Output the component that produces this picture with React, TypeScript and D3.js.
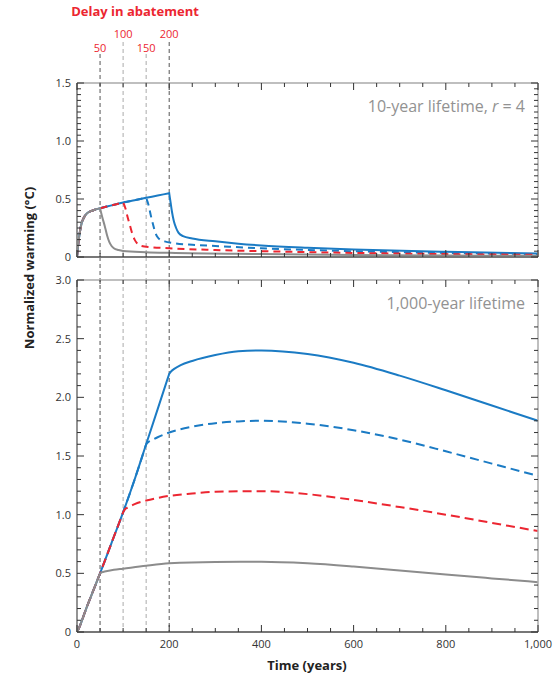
import React from "react";
import * as d3 from "d3";

// values
const delays = [50, 100, 150, 200];

// 10-year lifetime: shared rise before abatement
const riseT10 = [0, 3, 6, 10, 15, 20, 30, 40, 50, 75, 100, 125, 150, 175, 200];
const riseV10 = [0, 0.12, 0.21, 0.29, 0.34, 0.37, 0.395, 0.41, 0.42, 0.445, 0.47, 0.49, 0.51, 0.53, 0.55];

const tail10_50T = [50, 55, 60, 65, 70, 75, 80, 90, 100, 150, 200, 400, 600, 800, 1000];
const tail10_50V = [0.42, 0.34, 0.27, 0.19, 0.13, 0.095, 0.075, 0.06, 0.052, 0.042, 0.036, 0.025, 0.018, 0.013, 0.01];
const tail10_100T = [100, 105, 110, 115, 120, 125, 130, 140, 160, 200, 300, 400, 600, 800, 1000];
const tail10_100V = [0.47, 0.42, 0.34, 0.27, 0.2, 0.15, 0.12, 0.095, 0.085, 0.075, 0.06, 0.05, 0.035, 0.025, 0.018];
const tail10_150T = [150, 155, 160, 165, 170, 175, 180, 190, 210, 250, 300, 400, 600, 800, 1000];
const tail10_150V = [0.51, 0.45, 0.36, 0.28, 0.21, 0.17, 0.15, 0.135, 0.12, 0.105, 0.095, 0.075, 0.05, 0.035, 0.025];
const tail10_200T = [200, 203, 206, 210, 215, 220, 230, 250, 300, 350, 400, 500, 600, 800, 1000];
const tail10_200V = [0.55, 0.47, 0.39, 0.31, 0.25, 0.21, 0.18, 0.16, 0.135, 0.115, 0.1, 0.08, 0.065, 0.045, 0.03];

// 1,000-year lifetime
const riseT1000 = [0, 5, 10, 20, 30, 40, 50, 75, 100, 125, 150, 175, 200];
const riseV1000 = [0, 0.04, 0.09, 0.2, 0.3, 0.4, 0.5, 0.76, 1.02, 1.3, 1.6, 1.9, 2.2];

const tail1000_50T = [50, 55, 60, 80, 100, 150, 200, 300, 400, 500, 600, 700, 800, 900, 1000];
const tail1000_50V = [0.5, 0.51, 0.515, 0.53, 0.54, 0.565, 0.585, 0.597, 0.598, 0.585, 0.558, 0.525, 0.49, 0.457, 0.425];
const tail1000_100T = [100, 105, 110, 125, 150, 200, 250, 300, 400, 500, 600, 700, 800, 900, 1000];
const tail1000_100V = [1.02, 1.05, 1.06, 1.09, 1.12, 1.16, 1.18, 1.195, 1.2, 1.175, 1.125, 1.065, 1.0, 0.93, 0.86];
const tail1000_150T = [150, 155, 160, 175, 200, 250, 300, 350, 400, 500, 600, 700, 800, 900, 1000];
const tail1000_150V = [1.6, 1.62, 1.63, 1.66, 1.7, 1.75, 1.78, 1.795, 1.8, 1.775, 1.72, 1.64, 1.54, 1.435, 1.33];
const tail1000_200T = [200, 205, 210, 225, 250, 300, 350, 400, 500, 600, 700, 800, 900, 1000];
const tail1000_200V = [2.2, 2.225, 2.24, 2.275, 2.31, 2.36, 2.392, 2.4, 2.37, 2.295, 2.185, 2.06, 1.93, 1.8];

const xTickLabels = [0, 200, 400, 600, 800, 1000];
const yTopLabels = [0, 0.5, 1.0, 1.5];
const yBotLabels = [0, 0.5, 1.0, 1.5, 2.0, 2.5, 3.0];

const BLUE = "#1b7bc4";
const RED = "#ec2631";
const GRAY = "#8c8c8c";
const FONT = "'Open Sans', 'Noto Sans', sans-serif";

const x = d3.scaleLinear().domain([0, 1000]).range([77, 538]);
const yTop = d3.scaleLinear().domain([0, 1.5]).range([257, 83]);
const yBot = d3.scaleLinear().domain([0, 3]).range([632, 280]);

type Series = { delay: number; tt: number[]; tv: number[]; color: string; dash?: string };

const seriesTop: Series[] = [
  { delay: 200, tt: tail10_200T, tv: tail10_200V, color: BLUE },
  { delay: 150, tt: tail10_150T, tv: tail10_150V, color: BLUE, dash: "7,5" },
  { delay: 100, tt: tail10_100T, tv: tail10_100V, color: RED, dash: "7,5" },
  { delay: 50, tt: tail10_50T, tv: tail10_50V, color: GRAY },
];
const seriesBot: Series[] = [
  { delay: 200, tt: tail1000_200T, tv: tail1000_200V, color: BLUE },
  { delay: 150, tt: tail1000_150T, tv: tail1000_150V, color: BLUE, dash: "9,5" },
  { delay: 100, tt: tail1000_100T, tv: tail1000_100V, color: RED, dash: "9,5" },
  { delay: 50, tt: tail1000_50T, tv: tail1000_50V, color: GRAY },
];

function buildPath(s: Series, riseT: number[], riseV: number[], y: d3.ScaleLinear<number, number>) {
  const line = d3
    .line<[number, number]>()
    .x((d) => x(d[0]))
    .y((d) => y(d[1]))
    .curve(d3.curveMonotoneX);
  const rise = riseT.map((t, i) => [t, riseV[i]] as [number, number]).filter((d) => d[0] <= s.delay);
  const tail = s.tt.map((t, i) => [t, s.tv[i]] as [number, number]);
  return (line(rise) || "") + (line(tail) || "").replace(/^M/, "L");
}

function Panel({ y, minorStep, riseT, riseV, series }: any) {
  const [x0, x1] = x.range();
  const [yb, yt] = y.range();
  const xt = d3.range(0, 1001, 50);
  const top = y.domain()[1];
  const yt_ = d3.range(0, top + 1e-6, minorStep);
  const isMajorY = (v: number) => Math.abs(v / 0.5 - Math.round(v / 0.5)) < 1e-6;
  return (
    <g>
      {series.map((s: Series, i: number) => (
        <path
          key={i}
          d={buildPath(s, riseT, riseV, y)}
          fill="none"
          stroke={s.color}
          strokeWidth={2}
          strokeDasharray={s.dash}
        />
      ))}
      {/* frame */}
      <line x1={x0} x2={x1} y1={yt} y2={yt} stroke="#aaa" strokeWidth={1.5} />
      <line x1={x1} x2={x1} y1={yt} y2={yb} stroke="#aaa" strokeWidth={1.5} />
      <line x1={x0} x2={x0} y1={yt} y2={yb} stroke="#888" strokeWidth={1.8} />
      <line x1={x0} x2={x1} y1={yb} y2={yb} stroke="#777" strokeWidth={1.8} />
      {xt.map((t) => {
        const len = t % 200 === 0 ? 7 : 4;
        return (
          <g key={"x" + t}>
            <line x1={x(t)} x2={x(t)} y1={yt} y2={yt + len} stroke="#333" strokeWidth={1} />
            <line x1={x(t)} x2={x(t)} y1={yb} y2={yb - len} stroke="#333" strokeWidth={1} />
          </g>
        );
      })}
      {yt_.map((v) => {
        const len = isMajorY(v) ? 7 : 4;
        return (
          <g key={"y" + v}>
            <line x1={x0} x2={x0 + len} y1={y(v)} y2={y(v)} stroke="#333" strokeWidth={1} />
            <line x1={x1} x2={x1 - len} y1={y(v)} y2={y(v)} stroke="#333" strokeWidth={1} />
          </g>
        );
      })}
    </g>
  );
}

export default function App() {
  const fmtY = (v: number) => (v === 0 ? "0" : d3.format(".1f")(v));
  return (
    <svg
      width={555}
      height={675}
      style={{ position: "absolute", left: 0, top: 0, background: "#fff" }}
      fontFamily={FONT}
    >
      {/* delay guide lines */}
      {delays.map((d, i) => (
        <line
          key={d}
          x1={x(d)}
          x2={x(d)}
          y1={i % 2 === 0 ? 54 : 42}
          y2={yBot(0)}
          stroke={d === 50 || d === 200 ? "#555" : "#aaa"}
          strokeWidth={1}
          strokeDasharray="4,3"
        />
      ))}
      <Panel y={yTop} minorStep={0.05} riseT={riseT10} riseV={riseV10} series={seriesTop} />
      <Panel y={yBot} minorStep={0.1} riseT={riseT1000} riseV={riseV1000} series={seriesBot} />

      <text x={135} y={16} textAnchor="middle" fill={RED} fontWeight="bold" fontSize={13}>
        Delay in abatement
      </text>
      {delays.map((d, i) => (
        <text key={d} x={x(d)} y={i % 2 === 0 ? 52 : 38} textAnchor="middle" fill={RED} fontSize={11}>
          {d}
        </text>
      ))}

      <text x={525} y={112} textAnchor="end" fill="#929292" fontSize={16}>
        10-year lifetime, <tspan fontStyle="italic">r</tspan> = 4
      </text>
      <text x={525} y={309} textAnchor="end" fill="#929292" fontSize={16}>
        1,000-year lifetime
      </text>

      {yTopLabels.map((v) => (
        <text key={"lt" + v} x={71} y={yTop(v)} dy="0.35em" textAnchor="end" fill="#333" fontSize={11}>
          {fmtY(v)}
        </text>
      ))}
      {yBotLabels.map((v) => (
        <text key={"lb" + v} x={71} y={yBot(v)} dy="0.35em" textAnchor="end" fill="#333" fontSize={11}>
          {fmtY(v)}
        </text>
      ))}
      {xTickLabels.map((t) => (
        <text key={"xl" + t} x={x(t)} y={648} textAnchor="middle" fill="#333" fontSize={11}>
          {d3.format(",")(t)}
        </text>
      ))}

      <text
        transform="translate(34,268) rotate(-90)"
        textAnchor="middle"
        fontWeight="bold"
        fontSize={13}
        fill="#222"
      >
        Normalized warming (°C)
      </text>
      <text x={307} y={670} textAnchor="middle" fontWeight="bold" fontSize={13} fill="#222">
        Time (years)
      </text>
    </svg>
  );
}
